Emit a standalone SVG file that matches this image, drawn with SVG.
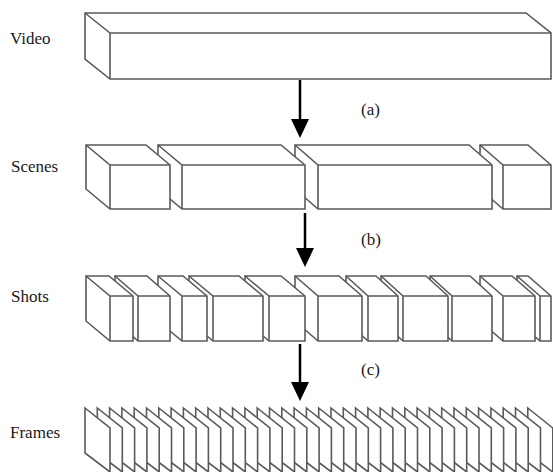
<svg xmlns="http://www.w3.org/2000/svg" width="553" height="472" viewBox="0 0 553 472">
<style>
.b{fill:#fff;stroke:#5a5a5a;stroke-width:1.6;stroke-linejoin:miter}
.e{fill:none;stroke:#5a5a5a;stroke-width:1.6}
.lbl{font-family:"Liberation Serif","Times New Roman",serif;font-size:17px;fill:#1a1a1a}
.sub{font-family:"Liberation Serif","Times New Roman",serif;font-size:17px;fill:#1a1a1a}
.ar{stroke:#000;stroke-width:2.5}
</style>
<g id="labels">
<text class="lbl" x="10" y="44">Video</text>
<text class="lbl" x="11" y="172">Scenes</text>
<text class="lbl" x="11" y="302">Shots</text>
<text class="lbl" x="10" y="438">Frames</text>
<text class="sub" x="361" y="115">(a)</text>
<text class="sub" x="361" y="245">(b)</text>
<text class="sub" x="361" y="375">(c)</text>
</g>
<g id="video">
<path class="b" d="M85,13 H526 L551,33 V79 H110 L85,59 Z"/>
<path class="e" d="M85,13 L110,33 H551 M110,33 V79"/>
</g>
<g id="scenes">
<g id="scene4"><path class="b" d="M480,145 H528 L551,165 V209 H503 L480,189 Z"/><path class="e" d="M480,145 L503,165 H551 M503,165 V209"/></g>
<g id="scene3"><path class="b" d="M295,145 H469 L492,165 V209 H318 L295,189 Z"/><path class="e" d="M295,145 L318,165 H492 M318,165 V209"/></g>
<g id="scene2"><path class="b" d="M158,145 H281 L305,165 V209 H182 L158,189 Z"/><path class="e" d="M158,145 L182,165 H305 M182,165 V209"/></g>
<g id="scene1"><path class="b" d="M86,145 H146 L170,165 V209 H110 L86,189 Z"/><path class="e" d="M86,145 L110,165 H170 M110,165 V209"/></g>
</g>
<g id="shots">
<g id="shot11"><path class="b" d="M517,276 H528 L551,296 V341 H540 L517,321 Z"/><path class="e" d="M517,276 L540,296 H551 M540,296 V341"/></g>
<g id="shot10"><path class="b" d="M480,276 H512 L535,296 V341 H503 L480,321 Z"/><path class="e" d="M480,276 L503,296 H535 M503,296 V341"/></g>
<g id="shot9"><path class="b" d="M430,276 H470 L492,296 V341 H452 L430,321 Z"/><path class="e" d="M430,276 L452,296 H492 M452,296 V341"/></g>
<g id="shot8"><path class="b" d="M381,276 H426 L448,296 V341 H403 L381,321 Z"/><path class="e" d="M381,276 L403,296 H448 M403,296 V341"/></g>
<g id="shot7"><path class="b" d="M346,276 H376 L398,296 V341 H368 L346,321 Z"/><path class="e" d="M346,276 L368,296 H398 M368,296 V341"/></g>
<g id="shot6"><path class="b" d="M295,276 H339 L362,296 V341 H318 L295,321 Z"/><path class="e" d="M295,276 L318,296 H362 M318,296 V341"/></g>
<g id="shot5"><path class="b" d="M245,276 H281 L305,296 V341 H269 L245,321 Z"/><path class="e" d="M245,276 L269,296 H305 M269,296 V341"/></g>
<g id="shot4"><path class="b" d="M189,276 H239 L263,296 V341 H213 L189,321 Z"/><path class="e" d="M189,276 L213,296 H263 M213,296 V341"/></g>
<g id="shot3"><path class="b" d="M158,276 H183 L207,296 V341 H182 L158,321 Z"/><path class="e" d="M158,276 L182,296 H207 M182,296 V341"/></g>
<g id="shot2"><path class="b" d="M115,276 H147 L170,296 V341 H138 L115,321 Z"/><path class="e" d="M115,276 L138,296 H170 M138,296 V341"/></g>
<g id="shot1"><path class="b" d="M86,276 H109 L133,296 V341 H110 L86,321 Z"/><path class="e" d="M86,276 L110,296 H133 M110,296 V341"/></g>
</g>
<defs>
<path id="fr" class="b" d="M0,0 L25,20 V64 L0,45 Z"/>
</defs>
<g id="frames">
<use href="#fr" x="527.8" y="408"/><use href="#fr" x="515.5" y="408"/><use href="#fr" x="503.2" y="408"/><use href="#fr" x="490.9" y="408"/><use href="#fr" x="478.6" y="408"/><use href="#fr" x="466.3" y="408"/><use href="#fr" x="454" y="408"/><use href="#fr" x="441.7" y="408"/><use href="#fr" x="429.4" y="408"/><use href="#fr" x="417.1" y="408"/><use href="#fr" x="404.8" y="408"/><use href="#fr" x="392.5" y="408"/><use href="#fr" x="380.2" y="408"/><use href="#fr" x="367.9" y="408"/><use href="#fr" x="355.6" y="408"/><use href="#fr" x="343.3" y="408"/><use href="#fr" x="331" y="408"/><use href="#fr" x="318.7" y="408"/><use href="#fr" x="306.4" y="408"/><use href="#fr" x="294.1" y="408"/><use href="#fr" x="281.8" y="408"/><use href="#fr" x="269.5" y="408"/><use href="#fr" x="257.2" y="408"/><use href="#fr" x="244.9" y="408"/><use href="#fr" x="232.6" y="408"/><use href="#fr" x="220.3" y="408"/><use href="#fr" x="208" y="408"/><use href="#fr" x="195.7" y="408"/><use href="#fr" x="183.4" y="408"/><use href="#fr" x="171.1" y="408"/><use href="#fr" x="158.8" y="408"/><use href="#fr" x="146.5" y="408"/><use href="#fr" x="134.2" y="408"/><use href="#fr" x="121.9" y="408"/><use href="#fr" x="109.6" y="408"/><use href="#fr" x="97.3" y="408"/><use href="#fr" x="85" y="408"/>
</g>
<g id="connectors">
<line class="ar" x1="300" y1="80" x2="300" y2="120"/><polygon points="291,119 309,119 300,138"/>
<line class="ar" x1="305" y1="213" x2="305" y2="249"/><polygon points="296,248 314,248 305,267"/>
<line class="ar" x1="300" y1="344" x2="300" y2="383"/><polygon points="291,382 309,382 300,401"/>
</g>
</svg>
